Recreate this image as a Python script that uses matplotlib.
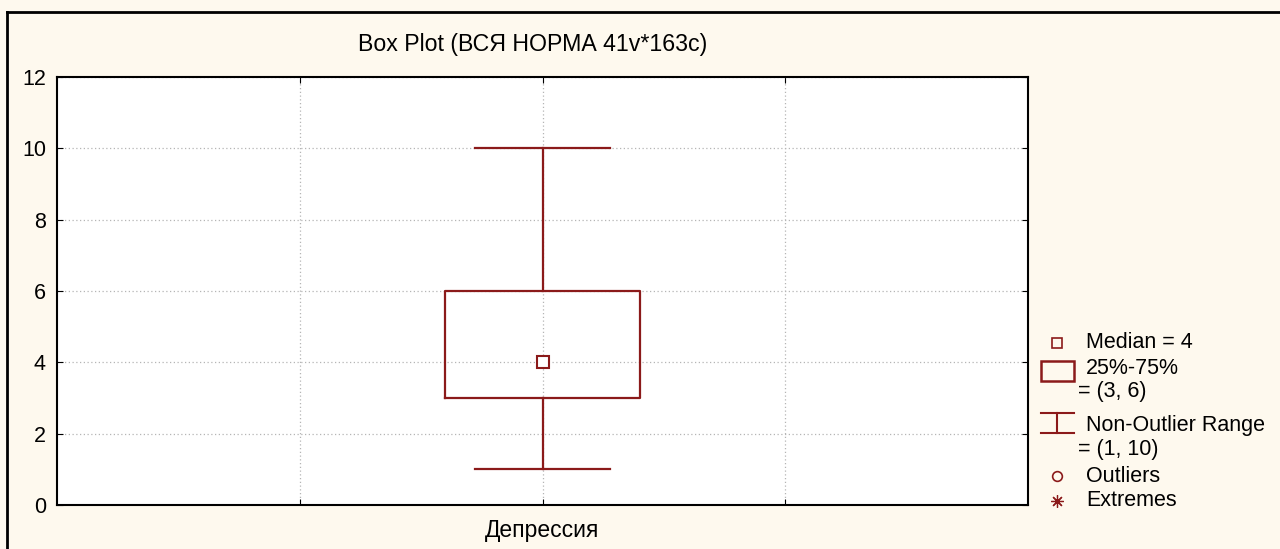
"""
Box plot: Депрессия (ВСЯ НОРМА)
"""

import matplotlib
matplotlib.use('Agg')
from matplotlib import pyplot as plt
from matplotlib.patches import Rectangle
from matplotlib.lines import Line2D

# --------------------------------------------------------------------------------------------------
# Data
# --------------------------------------------------------------------------------------------------

category = 'Депрессия'
median = 4
q1, q3 = 3, 6
whis_lo, whis_hi = 1, 10
title = 'Box Plot (ВСЯ НОРМА 41v*163c)'
y_ticks = [0, 2, 4, 6, 8, 10, 12]

# --------------------------------------------------------------------------------------------------
# Style
# --------------------------------------------------------------------------------------------------

plt.rcParams['font.family'] = ['Liberation Sans', 'DejaVu Sans']
fs = 15.5
red = '#8b1a1a'
bg = '#fef9ee'
W, H = 1280, 549

fig = plt.figure(figsize=(W / 100, H / 100), dpi=100, facecolor=bg)

# outer frame (only top and left visible)
fig.add_artist(Line2D([7 / W, 7 / W], [0, 1 - 12 / H], transform=fig.transFigure,
                      color='black', lw=2))
fig.add_artist(Line2D([7 / W, 1], [1 - 12 / H, 1 - 12 / H], transform=fig.transFigure,
                      color='black', lw=2))

# main axes
L, R, T, B = 57, 1028, 77, 505
ax = fig.add_axes([L / W, 1 - B / H, (R - L) / W, (B - T) / H])
ax.set_facecolor('white')
ax.set_xlim(-2, 2)
ax.set_ylim(0, 12)

stats = [dict(med=median, q1=q1, q3=q3, whislo=whis_lo, whishi=whis_hi, fliers=[])]
ax.bxp(stats, positions=[0], widths=0.8, showfliers=False, patch_artist=False,
       boxprops=dict(color=red, lw=1.6),
       whiskerprops=dict(color=red, lw=1.6),
       capprops=dict(color=red, lw=1.6),
       medianprops=dict(visible=False),
       capwidths=0.56)
ax.plot([0], [median], 's', ms=8, mfc='white', mec=red, mew=1.5, zorder=4)

ax.set_yticks(y_ticks)
ax.set_xticks([-1, 0, 1])
ax.set_xticklabels(['', category, ''], fontsize=16.5)
ax.tick_params(axis='both', direction='in', length=4, labelsize=fs, top=True, right=True,
               pad=8)
ax.tick_params(axis='x', pad=10, labelsize=16.5)
ax.grid(True, ls=(0, (1, 2)), color='#b5b5b5', lw=0.9)
ax.set_axisbelow(True)
for s in ax.spines.values():
    s.set_linewidth(1.5)

fig.text(533 / W, 1 - 45 / H, title, ha='center', va='center', fontsize=16.7)

# --------------------------------------------------------------------------------------------------
# Legend (drawn by hand, pixel coordinates)
# --------------------------------------------------------------------------------------------------

lg = fig.add_axes([0, 0, 1, 1], facecolor='none')
lg.set_xlim(0, W)
lg.set_ylim(H, 0)
lg.axis('off')

lg.plot([1057], [343], 's', ms=7, mfc='none', mec=red, mew=1.2)
lg.add_patch(Rectangle((1041, 361), 33, 20, fill=False, ec=red, lw=1.8))
lg.plot([1041, 1074], [413, 413], color=red, lw=1.5)
lg.plot([1057, 1057], [413, 433], color=red, lw=1.5)
lg.plot([1041, 1074], [433, 433], color=red, lw=1.5)
lg.plot([1057], [476], 'o', ms=7, mfc='none', mec=red, mew=1.2)
lg.plot([1057], [501], marker=(8, 2, 0), ms=9, color=red, mew=0.9)

legend_lines = [
    (1086, 343, f'Median = {median}'),
    (1086, 368, '25%-75%'),
    (1078, 392, f'= ({q1}, {q3})'),
    (1086, 425, 'Non-Outlier Range'),
    (1078, 450, f'= ({whis_lo}, {whis_hi})'),
    (1086, 476, 'Outliers'),
    (1086, 501, 'Extremes'),
]
for x, y, s in legend_lines:
    lg.text(x, y, s, ha='left', va='center', fontsize=fs)

fig.savefig('out.png', dpi=100, facecolor=bg)
